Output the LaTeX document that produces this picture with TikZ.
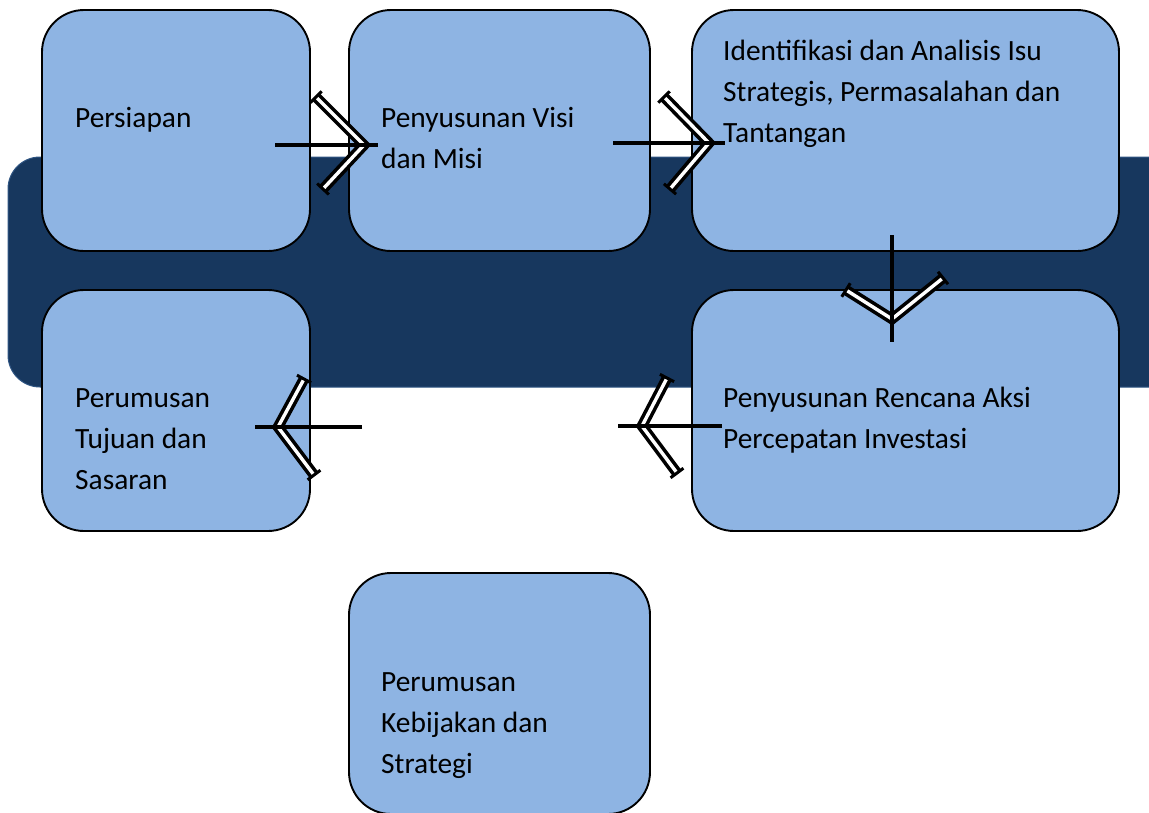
\documentclass[tikz,border=0pt]{standalone}
\usepackage{fontspec}
\setmainfont{Carlito}
\usetikzlibrary{calc}
\definecolor{boxblue}{HTML}{8EB4E3}
\definecolor{navy}{HTML}{17375E}
\definecolor{navyedge}{HTML}{2F5583}
\newcommand{\mychev}[3]{%
  \draw[chev] (#2) -- (#1) -- (#3);
  \draw[tick] ($(#2)!8pt!90:(#1)$) -- ($(#2)!8pt!-90:(#1)$);
  \draw[tick] ($(#3)!8pt!90:(#1)$) -- ($(#3)!8pt!-90:(#1)$);
}
\begin{document}
\begin{tikzpicture}[x=1pt,y=-1pt,
  stepbox/.style={draw=black, line width=1.9pt, fill=boxblue, rounded corners=42pt, inner sep=0pt},
  lbl/.style={anchor=base west, align=left, inner sep=0pt, font=\fontsize{29.4}{41}\selectfont},
  shaft/.style={draw=black, line width=3.4pt},
  tick/.style={draw=black, line width=3pt},
  chev/.style={double=white, draw=black, line width=3.6pt, double distance=3.4pt, line join=miter}]
\useasboundingbox (0,0) rectangle (1149,812);
\clip (0,0) rectangle (1149,812);
% dark band
\fill[navy, draw=navyedge, line width=1pt, rounded corners=32pt] (8,157) rectangle (1185,387);
% boxes
\node[stepbox, minimum width=268pt, minimum height=241pt] (b1) at (176,130.5) {};
\node[stepbox, minimum width=301pt, minimum height=241pt] (b2) at (499.5,130.5) {};
\node[stepbox, minimum width=427pt, minimum height=241pt] (b3) at (905.5,130.5) {};
\node[stepbox, minimum width=268pt, minimum height=241pt] (b4) at (176,410.5) {};
\node[stepbox, minimum width=427pt, minimum height=241pt] (b5) at (905.5,410.5) {};
\node[stepbox, minimum width=301pt, minimum height=241pt] (b6) at (499.5,693.5) {};
% labels (anchor = baseline of last line)
\node[lbl] (t1) at (75,127) {Persiapan};
\node[lbl] (t2) at (381,168) {Penyusunan Visi\\dan Misi};
\node[lbl] (t3) at (723,142) {Identifikasi dan Analisis Isu\\Strategis, Permasalahan dan\\Tantangan};
\node[lbl] (t4) at (75,489) {Perumusan\\Tujuan dan\\Sasaran};
\node[lbl] (t5) at (723,448) {Penyusunan Rencana Aksi\\Percepatan Investasi};
\node[lbl] (t6) at (381,773) {Perumusan\\Kebijakan dan\\Strategi};
% arrow coordinates
\coordinate (a1s) at (275,145); \coordinate (a1e) at (378,145);
\coordinate (a1t) at (364,145); \coordinate (a1u) at (316,97); \coordinate (a1d) at (323,189);
\coordinate (a2s) at (613,143); \coordinate (a2e) at (725,143);
\coordinate (a2t) at (709,143); \coordinate (a2u) at (664,97); \coordinate (a2d) at (670,189);
\coordinate (a3s) at (892,235); \coordinate (a3e) at (892,342);
\coordinate (a3t) at (892,319); \coordinate (a3u) at (846,290); \coordinate (a3d) at (943,278);
\coordinate (a4s) at (362,427); \coordinate (a4e) at (255,427);
\coordinate (a4t) at (278,427); \coordinate (a4u) at (304,379); \coordinate (a4d) at (314,475);
\coordinate (a5s) at (722,426); \coordinate (a5e) at (618,426);
\coordinate (a5t) at (642,426); \coordinate (a5u) at (667,378); \coordinate (a5d) at (677,473);
% arrows
\mychev{a1t}{a1u}{a1d}
\draw[shaft] (a1s) -- (a1e);
\mychev{a2t}{a2u}{a2d}
\draw[shaft] (a2s) -- (a2e);
\mychev{a3t}{a3u}{a3d}
\draw[shaft] (a3s) -- (a3e);
\mychev{a4t}{a4u}{a4d}
\draw[shaft] (a4s) -- (a4e);
\mychev{a5t}{a5u}{a5d}
\draw[shaft] (a5s) -- (a5e);
\end{tikzpicture}
\end{document}
